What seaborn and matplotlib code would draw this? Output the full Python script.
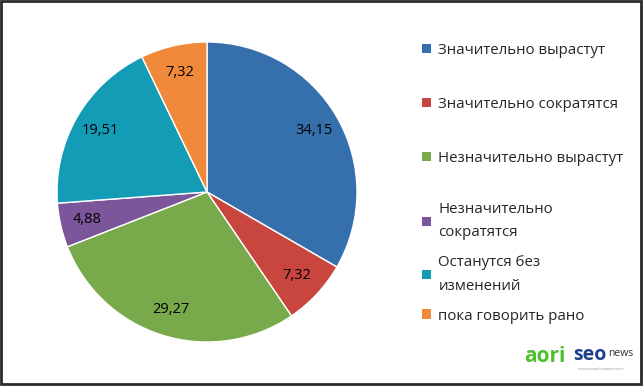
import matplotlib
matplotlib.use('Agg')
import matplotlib.pyplot as plt
from matplotlib.patches import Patch, Rectangle
import seaborn as sns

labels = ['Значительно вырастут', 'Значительно сократятся', 'Незначительно вырастут',
          'Незначительно\nсократятся', 'Останутся без\nизменений', 'пока говорить рано']
values = [34.15, 7.32, 29.27, 4.88, 19.51, 7.32]
colors = sns.color_palette(['#3670AC', '#C9463F', '#78A94A', '#7C569A', '#149BB5', '#F08A3A'])

sns.set_theme(style='white')
plt.rcParams['font.family'] = ['Open Sans', 'DejaVu Sans']

W, H = 644, 386
fig = plt.figure(figsize=(W / 100, H / 100), dpi=100)
fig.patch.set_facecolor('white')

ax = fig.add_axes([57 / W, (H - 342) / H, 300 / W, 300 / H])
wedges, texts, autotexts = ax.pie(
  values, colors=colors, startangle=90, counterclock=False,
  autopct=lambda p: '', pctdistance=0.82,
  wedgeprops=dict(edgecolor='white', linewidth=1))
for t, v in zip(autotexts, values):
  t.set_text(('%.2f' % v).replace('.', ','))
  t.set_fontsize(10.5)
  t.set_color('black')
ax.set_xlim(-1, 1)
ax.set_ylim(-1, 1)
ax.set_aspect('equal')
ax.axis('off')

# legend in two blocks, like the Excel layout (single-line items spaced wider)
handles = [Patch(facecolor=c, edgecolor='none') for c in colors]
opts = dict(loc='upper left', frameon=False, fontsize=10.8, handlelength=0.6,
            handleheight=0.6, handletextpad=0.5, borderaxespad=0)
leg1 = fig.legend(handles[:3], labels[:3], bbox_to_anchor=(416 / W, 1 - 37 / H),
                  labelspacing=2.6, **opts)
leg2 = fig.legend(handles[3:], labels[3:], bbox_to_anchor=(416 / W, 1 - 196 / H),
                  labelspacing=1.0, **opts)
for t in leg2.get_texts():
  t.set_linespacing(1.75)

# logo
fig.text(524 / W, 1 - 357 / H, 'aori', color='#4DBF2A', fontsize=15, fontweight='bold',
         va='center', ha='left')
fig.text(573 / W, 1 - 355 / H, 'seo', color='#1F3F8F', fontsize=14, fontweight='bold',
         va='center', ha='left')
fig.text(608 / W, 1 - 353 / H, 'news', color='#333333', fontsize=7.5,
         va='center', ha='left')
fig.text(578 / W, 1 - 369 / H, 'поисковый маркетинг', color='#999999', fontsize=3,
         va='center', ha='left')

fig.add_artist(Rectangle((1 / W, 2 / H), 640 / W, 383 / H, transform=fig.transFigure,
                         fill=False, edgecolor='#2b2b2b', linewidth=2))

fig.savefig('out.png', dpi=100)
